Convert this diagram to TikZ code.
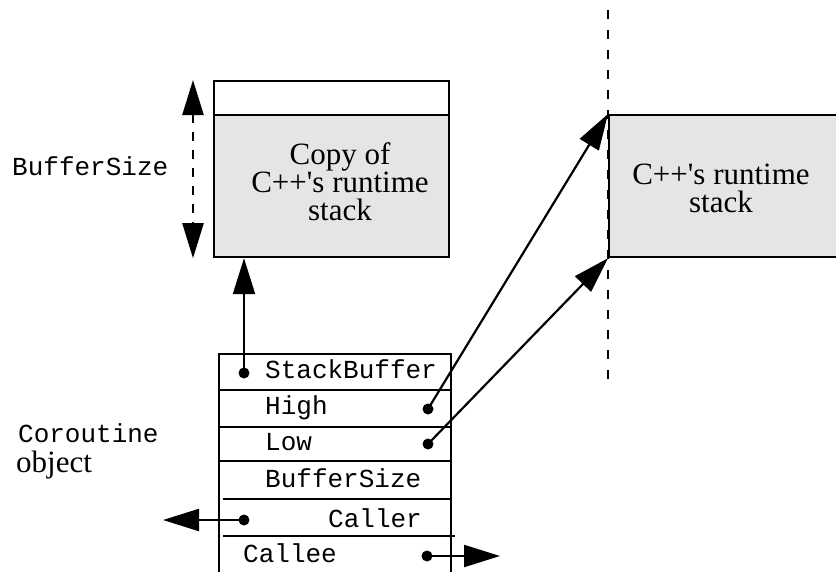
\documentclass[tikz,border=0pt]{standalone}
\usepackage{fontspec}
\setmainfont{Liberation Serif}[Ligatures=TeXOff]
\setmonofont{Liberation Mono}
\usetikzlibrary{arrows.meta}
\tikzset{
  frame/.style={line width=2.2pt},
  stackbox/.style={draw, frame, fill=black!10, inner sep=0pt, anchor=north west},
  ptr/.style={line width=2.2pt, -{Triangle[length=36pt,width=22pt]}},
  dot/.style={circle, fill=black, inner sep=0pt, minimum size=11pt},
  field/.style={font=\fontsize{26}{26}\selectfont\ttfamily, anchor=base west, inner sep=0pt},
  serif/.style={font=\fontsize{31}{28}\selectfont, align=center, inner sep=0pt},
}
\begin{document}
\begin{tikzpicture}[x=1pt,y=-1pt]
\useasboundingbox (0,0) rectangle (836,571);
\clip (0,0) rectangle (836,571);

% boundary of the live stack
\draw[line width=2.4pt, dash pattern=on 9pt off 11pt] (608,10) -- (608,380);

% saved copy of the stack
\node[draw, frame, fill=white, inner sep=0pt, anchor=north west,
      minimum width=235pt, minimum height=34pt] (cap) at (213,80) {};
\node[stackbox, minimum width=235pt, minimum height=142pt] (copy) at (213,114) {};
\node[serif] (copytext) at (340,182) {Copy of\\C++'s runtime\\stack};

% size of the buffer
\draw[line width=2.4pt, dash pattern=on 9pt off 9pt,
      {Triangle[length=35pt,width=21pt]}-{Triangle[length=35pt,width=21pt]}]
      (cap.north -| 193,0) -- (copy.south -| 193,0);
\node[field] (sizelabel) at (12,175) {BufferSize};

% the live runtime stack
\node[stackbox, minimum width=250pt, minimum height=142pt] (rt) at (608,114) {};
\node[serif] (rttext) at (721,188) {C++'s runtime\\stack};

% the coroutine object
\draw[frame] (219,580) -- (219,354) -- (451,354) -- (451,580);
\draw[frame] (219,390) -- (451,390);
\draw[frame] (219,427) -- (451,427);
\draw[frame] (219,461) -- (451,461);
\draw[frame] (223,499) -- (451,499);
\draw[frame] (223,536) -- (455,536);

\node[field] (sb) at (265,378) {StackBuffer};
\node[field] (hi) at (265,414) {High};
\node[field] (lo) at (265,450) {Low};
\node[field] (bs) at (265,487) {BufferSize};
\node[field] (caller) at (328,527) {Caller};
\node[field] (callee) at (243,562) {Callee};

\node[field] (corolabel) at (18,442) {Coroutine};
\node[font=\fontsize{31}{28}\selectfont, anchor=base west, inner sep=0pt] (objlabel) at (16,472) {object};

% pointer fields
\node[dot] (sbdot) at (244,373) {};
\node[dot] (hidot) at (428,409) {};
\node[dot] (lodot) at (428,444) {};
\node[dot] (callerdot) at (244,520) {};
\node[dot] (calleedot) at (427,556) {};
\coordinate (callerend) at (163,520);
\coordinate (calleeend) at (500,556);

\draw[ptr] (sbdot.center) -- (sbdot.center |- copy.south);
\draw[ptr] (hidot.center) -- (rt.north west);
\draw[ptr] (lodot.center) -- (rt.south west);
\draw[ptr] (callerdot.center) -- (callerend);
\draw[ptr] (calleedot.center) -- (calleeend);
\end{tikzpicture}
\end{document}
